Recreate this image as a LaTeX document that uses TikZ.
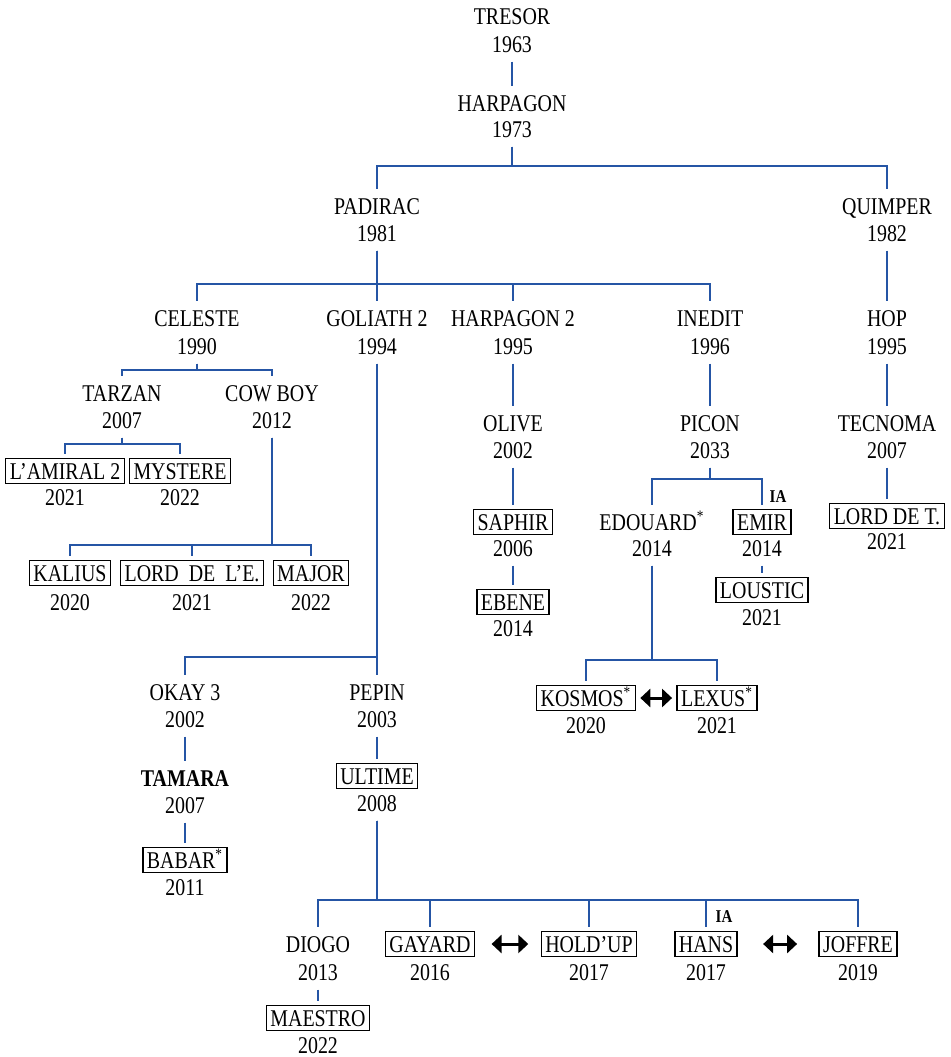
\documentclass[tikz,border=0pt]{standalone}
\usepackage{fontspec}
\setmainfont[FakeStretch=0.83]{Liberation Serif}
\usetikzlibrary{arrows.meta}
\definecolor{linkblue}{rgb}{0.145, 0.333, 0.647}
\tikzset{
  nm/.style={inner xsep=2pt, inner ysep=2.25pt, outer sep=2.5pt, text height=8pt, text depth=0pt, font=\fontsize{12}{14}\selectfont},
  bx/.style={nm, draw=black, line width=0.65pt},
  bold/.style={nm, font=\bfseries\fontsize{12}{14}\selectfont},
  ia/.style={inner sep=0pt, font=\bfseries\fontsize{9}{11}\selectfont},
  ln/.style={draw=linkblue, line width=0.9pt},
  dbl/.style={line width=1.5pt, {Triangle[length=5pt,width=9pt]}-{Triangle[length=5pt,width=9pt]}}
}

\begin{document}
\begin{tikzpicture}[x=0.5pt, y=-0.5pt]
        \useasboundingbox (0,0) rectangle (951,1057);

        % top of the line
        \node[nm] (tresor) at (512,16) {TRESOR};
        \node[nm] (tresor-y) at (512,44) {1963};
        \node[nm] (harpagon) at (512,103) {HARPAGON};
        \node[nm] (harpagon-y) at (512,129) {1973};
        \node[nm] (padirac) at (377,206) {PADIRAC};
        \node[nm] (padirac-y) at (377,233) {1981};
        \node[nm] (quimper) at (887,206) {QUIMPER};
        \node[nm] (quimper-y) at (887,233) {1982};

        % second row
        \node[nm] (celeste) at (197,318) {CELESTE};
        \node[nm] (celeste-y) at (197,346) {1990};
        \node[nm] (goliath) at (377,318) {GOLIATH 2};
        \node[nm] (goliath-y) at (377,346) {1994};
        \node[nm] (harpagon2) at (513,318) {HARPAGON 2};
        \node[nm] (harpagon2-y) at (513,346) {1995};
        \node[nm] (inedit) at (710,318) {INEDIT};
        \node[nm] (inedit-y) at (710,346) {1996};
        \node[nm] (hop) at (887,318) {HOP};
        \node[nm] (hop-y) at (887,346) {1995};

        % celeste branch
        \node[nm] (tarzan) at (122,393) {TARZAN};
        \node[nm] (tarzan-y) at (122,420) {2007};
        \node[nm] (cowboy) at (272,393) {COW BOY};
        \node[nm] (cowboy-y) at (272,420) {2012};
        \node[bx] (amiral) at (65,471) {L’AMIRAL 2};
        \node[nm] (amiral-y) at (65,497) {2021};
        \node[bx] (mystere) at (180,471) {MYSTERE};
        \node[nm] (mystere-y) at (180,497) {2022};
        \node[bx] (kalius) at (70,573) {KALIUS};
        \node[nm] (kalius-y) at (70,602) {2020};
        \node[bx] (lordle) at (192,573) {LORD\ \ DE\ \ L’E.};
        \node[nm] (lordle-y) at (192,602) {2021};
        \node[bx] (major) at (311,573) {MAJOR};
        \node[nm] (major-y) at (311,602) {2022};

        % harpagon 2, inedit, hop branches
        \node[nm] (olive) at (513,423) {OLIVE};
        \node[nm] (olive-y) at (513,450) {2002};
        \node[bx] (saphir) at (513,522) {SAPHIR};
        \node[nm] (saphir-y) at (513,548) {2006};
        \node[bx] (ebene) at (513,602) {EBENE};
        \node[nm] (ebene-y) at (513,628) {2014};
        \node[nm] (picon) at (710,423) {PICON};
        \node[nm] (picon-y) at (710,450) {2033};
        \node[nm] (edouard) at (652,522) {EDOUARD\textsuperscript{*}};
        \node[nm] (edouard-y) at (652,548) {2014};
        \node[bx] (emir) at (762,522) {EMIR};
        \node[nm] (emir-y) at (762,548) {2014};
        \node[ia] (ia-emir) at (778,497) {IA};
        \node[bx] (loustic) at (762,590) {LOUSTIC};
        \node[nm] (loustic-y) at (762,617) {2021};
        \node[bx] (kosmos) at (586,698) {KOSMOS\textsuperscript{*}};
        \node[nm] (kosmos-y) at (586,725) {2020};
        \node[bx] (lexus) at (717,698) {LEXUS\textsuperscript{*}};
        \node[nm] (lexus-y) at (717,725) {2021};
        \node[nm] (tecnoma) at (887,423) {TECNOMA};
        \node[nm] (tecnoma-y) at (887,450) {2007};
        \node[bx] (lorddet) at (887,516) {LORD DE T.};
        \node[nm] (lorddet-y) at (887,541) {2021};

        % goliath 2 branch
        \node[nm] (okay) at (185,692) {OKAY 3};
        \node[nm] (okay-y) at (185,719) {2002};
        \node[nm] (pepin) at (377,692) {PEPIN};
        \node[nm] (pepin-y) at (377,719) {2003};
        \node[bold] (tamara) at (185,778) {TAMARA};
        \node[nm] (tamara-y) at (185,805) {2007};
        \node[bx] (babar) at (185,860) {BABAR\textsuperscript{*}};
        \node[nm] (babar-y) at (185,887) {2011};
        \node[bx] (ultime) at (377,776) {ULTIME};
        \node[nm] (ultime-y) at (377,803) {2008};

        % bottom row
        \node[nm] (diogo) at (318,944) {DIOGO};
        \node[nm] (diogo-y) at (318,972) {2013};
        \node[bx] (gayard) at (430,944) {GAYARD};
        \node[nm] (gayard-y) at (430,972) {2016};
        \node[bx] (holdup) at (589,944) {HOLD’UP};
        \node[nm] (holdup-y) at (589,972) {2017};
        \node[bx] (hans) at (706,944) {HANS};
        \node[nm] (hans-y) at (706,972) {2017};
        \node[ia] (ia-hans) at (724,917) {IA};
        \node[bx] (joffre) at (858,944) {JOFFRE};
        \node[nm] (joffre-y) at (858,972) {2019};
        \node[bx] (maestro) at (318,1018) {MAESTRO};
        \node[nm] (maestro-y) at (318,1045) {2022};

        % straight links
        \foreach \src/\dst in {tresor-y/harpagon,quimper-y/hop,hop-y/tecnoma,tecnoma-y/lorddet,harpagon2-y/olive,olive-y/saphir,saphir-y/ebene,inedit-y/picon,emir-y/loustic,okay-y/tamara,tamara-y/babar,pepin-y/ultime,diogo-y/maestro}{
            \draw[ln] (\src.south) -- (\dst.north);
        }

        % forks
        \foreach \src/\bary/\dst in {harpagon-y/166/padirac,harpagon-y/166/quimper,padirac-y/284/celeste,padirac-y/284/goliath,padirac-y/284/harpagon2,padirac-y/284/inedit,celeste-y/370/tarzan,celeste-y/370/cowboy,tarzan-y/444/amiral,tarzan-y/444/mystere,cowboy-y/545/kalius,cowboy-y/545/lordle,cowboy-y/545/major,picon-y/479/edouard,picon-y/479/emir,edouard-y/660/kosmos,edouard-y/660/lexus,goliath-y/657/okay,goliath-y/657/pepin,ultime-y/900/diogo,ultime-y/900/gayard,ultime-y/900/holdup,ultime-y/900/hans,ultime-y/900/joffre}{
            \draw[ln] (\src.south) |- (\dst.north |- 0,\bary) -- (\dst.north);
        }

        % twins
        \draw[dbl] (kosmos) -- (lexus);
        \draw[dbl, shorten <=6pt, shorten >=4pt] (gayard) -- (holdup);
        \draw[dbl, shorten <=10.5pt, shorten >=8.5pt] (hans) -- (joffre);
    \end{tikzpicture}
\end{document}
